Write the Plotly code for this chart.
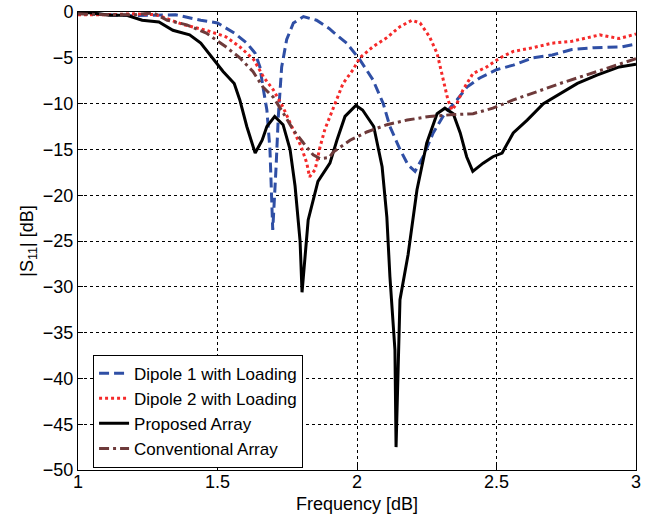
import plotly.graph_objects as go

# Dipole 1 with Loading
f_d1 = [1.0, 1.1, 1.2, 1.35, 1.44, 1.5, 1.56, 1.605, 1.635, 1.652, 1.663, 1.677, 1.688, 1.695, 1.698,
        1.71, 1.718, 1.73, 1.748, 1.772, 1.808, 1.855, 1.9, 1.915, 1.963, 2.01, 2.057, 2.094, 2.118,
        2.154, 2.183, 2.208, 2.237, 2.273, 2.308, 2.358, 2.394, 2.44, 2.5, 2.56, 2.63, 2.70, 2.77,
        2.85, 2.907, 2.95, 3.0]
s_d1 = [0.0, -0.3, -0.4, -0.3, -0.9, -1.2, -2.3, -3.4, -4.5, -6.0, -8.2, -10.7, -15.0, -20.5, -23.8,
        -16.9, -11.4, -6.0, -3.0, -1.2, -0.5, -0.9, -1.8, -2.2, -3.4, -5.2, -7.4, -10.0, -12.5,
        -15.0, -16.7, -17.4, -15.8, -13.2, -11.4, -9.6, -8.2, -7.2, -6.3, -5.8, -5.0, -4.7, -4.1,
        -3.9, -3.8, -3.8, -3.5]

# Dipole 2 with Loading
f_d2 = [1.0, 1.1, 1.2, 1.28, 1.38, 1.46, 1.53, 1.58, 1.63, 1.665, 1.70, 1.735, 1.772, 1.8, 1.82, 1.83,
        1.85, 1.867, 1.885, 1.915, 1.95, 1.986, 2.01, 2.057, 2.107, 2.154, 2.197, 2.226, 2.26, 2.287,
        2.308, 2.326, 2.34, 2.358, 2.38, 2.416, 2.465, 2.513, 2.56, 2.63, 2.70, 2.77, 2.87, 2.94, 3.0]
s_d2 = [-0.3, -0.3, -0.2, -0.3, -1.4, -2.0, -2.7, -3.8, -5.2, -7.1, -8.5, -10.4, -12.9, -14.7, -16.5, -18.0,
        -17.2, -14.8, -12.8, -10.4, -7.8, -6.3, -5.0, -3.8, -2.8, -1.6, -0.9, -1.2, -2.7, -4.5,
        -7.1, -9.6, -10.7, -10.0, -8.5, -6.7, -6.0, -5.0, -4.3, -3.9, -3.4, -3.2, -2.5, -2.9, -2.4]

# Proposed Array
f_pa = [1.0, 1.05, 1.115, 1.175, 1.23, 1.29, 1.34, 1.40, 1.44, 1.485, 1.52, 1.56, 1.58, 1.605, 1.635,
        1.66, 1.677, 1.705, 1.735, 1.76, 1.778, 1.796, 1.803, 1.825, 1.86, 1.903, 1.928, 1.957, 1.996,
        2.02, 2.06, 2.09, 2.107, 2.118, 2.136, 2.14, 2.154, 2.183, 2.215, 2.25, 2.287, 2.315, 2.345,
        2.37, 2.393, 2.415, 2.452, 2.487, 2.52, 2.56, 2.61, 2.668, 2.728, 2.79, 2.86, 2.94, 3.0]
s_pa = [0.0, -0.1, -0.35, -0.35, -0.9, -1.1, -2.0, -2.5, -3.4, -5.2, -6.5, -7.8, -9.6, -12.5, -15.4,
        -14.0, -12.5, -11.4, -12.3, -15.0, -19.0, -25.0, -30.6, -22.7, -18.5, -16.5, -14.0, -11.4, -10.2,
        -10.7, -12.5, -16.9, -22.4, -28.9, -36.9, -47.5, -31.4, -26.5, -19.4, -14.3, -11.1, -10.5, -11.1,
        -13.2, -15.8, -17.4, -16.5, -15.8, -15.4, -13.2, -11.8, -10.0, -8.9, -7.8, -6.9, -6.0, -5.7]

# Conventional Array
f_ca = [1.0, 1.1, 1.2, 1.27, 1.32, 1.39, 1.46, 1.53, 1.58, 1.627, 1.663, 1.70, 1.735, 1.772, 1.808,
        1.843, 1.867, 1.9, 1.915, 1.975, 2.035, 2.107, 2.18, 2.26, 2.345, 2.416, 2.487, 2.56, 2.645,
        2.728, 2.82, 2.907, 3.0]
s_ca = [-0.2, -0.3, -0.3, -0.1, -0.9, -1.4, -2.3, -3.8, -5.0, -6.5, -8.2, -9.3, -11.0, -12.9, -14.3,
        -15.6, -16.0, -15.9, -15.3, -14.0, -13.1, -12.3, -11.8, -11.4, -11.2, -11.1, -10.5, -9.6, -8.7,
        -7.8, -6.9, -6.0, -5.1]

x_ticks = [1, 1.5, 2, 2.5, 3]
x_ticklabels = ["1", "1.5", "2", "2.5", "3"]
y_ticks = [0, -5, -10, -15, -20, -25, -30, -35, -40, -45, -50]

FONT = "Liberation Sans, Arial, sans-serif"

fig = go.Figure()
fig.add_trace(go.Scatter(x=f_d1, y=s_d1, mode="lines", name="Dipole 1 with Loading",
                         line=dict(color="#2F4FA5", width=3, dash="10px,5px")))
fig.add_trace(go.Scatter(x=f_d2, y=s_d2, mode="lines", name="Dipole 2 with Loading",
                         line=dict(color="#F52A2A", width=3, dash="3px,3px")))
fig.add_trace(go.Scatter(x=f_pa, y=s_pa, mode="lines", name="Proposed Array",
                         line=dict(color="#000000", width=3)))
fig.add_trace(go.Scatter(x=f_ca, y=s_ca, mode="lines", name="Conventional Array",
                         line=dict(color="#6E3A3A", width=3, dash="10px,4px,3px,4px")))

axis_common = dict(showline=True, linecolor="black", linewidth=1, mirror=True,
                   showgrid=True, gridcolor="black", griddash="dot", gridwidth=1,
                   ticks="inside", ticklen=5, tickcolor="black", zeroline=False,
                   automargin=False,
                   tickfont=dict(family=FONT, size=18, color="black"))

fig.update_layout(
    width=655, height=518,
    margin=dict(l=78, r=19, t=12, b=48),
    plot_bgcolor="white", paper_bgcolor="white",
    font=dict(family=FONT, color="black"),
    xaxis=dict(range=[1, 3], tickvals=x_ticks, ticktext=x_ticklabels, ticklabelstandoff=-5,
               title=dict(text="Frequency [dB]", font=dict(family=FONT, size=18), standoff=6), **axis_common),
    yaxis=dict(range=[-50, 0], tickvals=y_ticks,
               title=dict(text="|S<sub>11</sub>| [dB]", font=dict(family=FONT, size=18), standoff=4), **axis_common),
    legend=dict(x=0.027, y=0.252, xanchor="left", yanchor="top",
                bgcolor="white", bordercolor="black", borderwidth=1,
                font=dict(family=FONT, size=17, color="black"), tracegroupgap=0),
    showlegend=True,
)

fig.write_html("out.html")
